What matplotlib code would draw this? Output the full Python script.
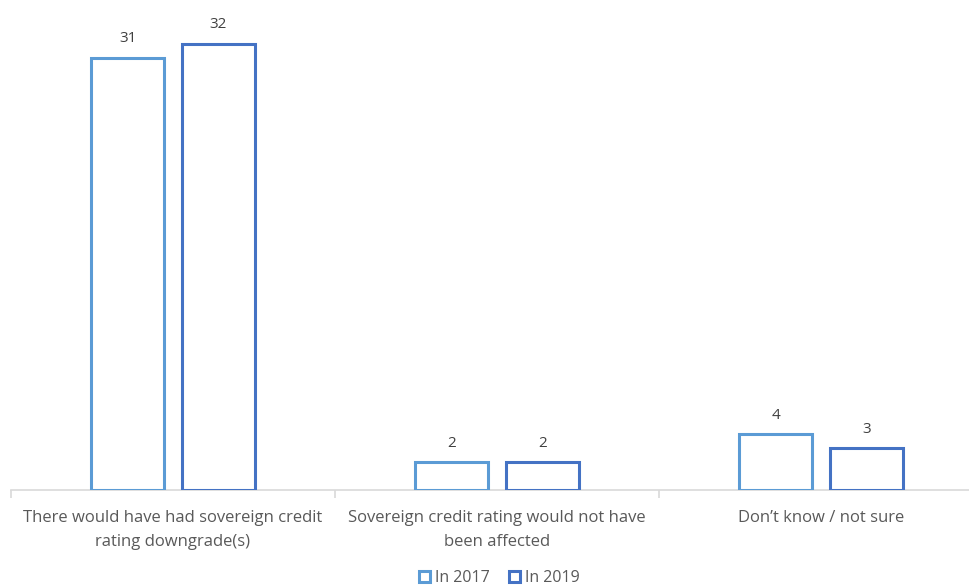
import matplotlib
matplotlib.use("Agg")
import matplotlib.pyplot as plt
import numpy as np

categories = [
    "There would have had sovereign credit\nrating downgrade(s)",
    "Sovereign credit rating would not have\nbeen affected",
    "Don\u2019t know / not sure",
]
series_names = ["In 2017", "In 2019"]
values_2017 = [31, 2, 4]
values_2019 = [32, 2, 3]

colors = ["#5B9BD5", "#4472C4"]
text_color = "#595959"
axis_color = "#D9D9D9"

plt.rcParams["font.family"] = ["Open Sans", "DejaVu Sans"]

fig = plt.figure(figsize=(9.7, 5.87), dpi=100)
W, H = 970, 587
left_px, right_px, base_px = 11, 983, 490
ymax = 35
px_per_unit = 13.95
ax = fig.add_axes([left_px / W, (H - base_px) / H,
                   (right_px - left_px) / W, ymax * px_per_unit / H])

x = np.arange(len(categories))
bar_w = 0.225
offset = 0.14
for vals, off, col, name in [(values_2017, -offset, colors[0], series_names[0]),
                             (values_2019, offset, colors[1], series_names[1])]:
    bars = ax.bar(x + off, vals, width=bar_w, facecolor="white",
                  edgecolor=col, linewidth=2.2, label=name, zorder=3)
    for b, v in zip(bars, vals):
        ax.annotate(str(v), (b.get_x() + b.get_width() / 2, v),
                    xytext=(0, 8), textcoords="offset points",
                    ha="center", va="bottom", fontsize=11, color="#404040")

ax.set_xlim(-0.5, len(categories) - 0.5)
ax.set_ylim(0, ymax)
for s in ["top", "right", "left"]:
    ax.spines[s].set_visible(False)
ax.spines["bottom"].set_color(axis_color)
ax.spines["bottom"].set_linewidth(1.2)
ax.set_yticks([])

# category labels centred, boundary ticks between categories
ax.set_xticks(x)
ax.set_xticklabels(categories, fontsize=12, color=text_color, linespacing=1.62)
ax.tick_params(axis="x", which="major", length=0, pad=14.5)
ax.set_xticks(np.arange(-0.5, len(categories), 1.0), minor=True)
ax.tick_params(axis="x", which="minor", length=6, color=axis_color, width=1.2)

leg = fig.legend(loc="center", bbox_to_anchor=(0.515, 1 - 578 / H), ncol=2,
                 frameon=False, fontsize=11.5, handlelength=0.7, handleheight=0.7,
                 handletextpad=0.3, columnspacing=1.2)
for t in leg.get_texts():
    t.set_color(text_color)

fig.savefig("out.png", dpi=100, facecolor="white")
